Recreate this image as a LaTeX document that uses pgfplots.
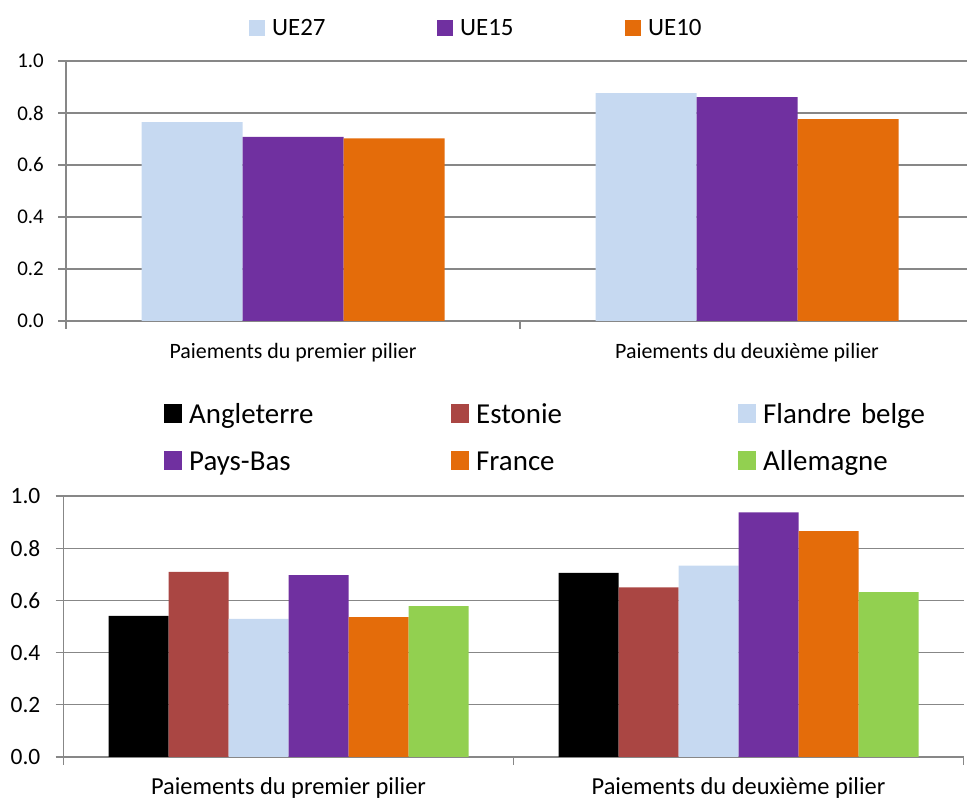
\documentclass[border=0pt]{standalone}
\usepackage{pgfplots}
\pgfplotsset{compat=1.18}
\usepackage{fontspec}
\setmainfont{Carlito}

\definecolor{clblue}{HTML}{C6D9F1}
\definecolor{cpurple}{HTML}{7030A0}
\definecolor{corange}{HTML}{E46C0A}
\definecolor{cred}{HTML}{AA4643}
\definecolor{cgreen}{HTML}{92D050}
\definecolor{cgrid}{HTML}{878787}

\pgfplotsset{
  panel/.style={
    scale only axis,
    ybar=0pt,
    ymin=0, ymax=1, xmin=-0.5, xmax=1.5,
    ytick={0,0.2,0.4,0.6,0.8,1},
    yticklabel style={/pgf/number format/fixed, /pgf/number format/fixed zerofill,
      /pgf/number format/precision=1, /pgf/number format/assume math mode=true},
    xtick={-0.5,0.5,1.5}, xticklabels={},
    extra x ticks={0,1},
    extra x tick style={major tick length=0pt, grid=none},
    ymajorgrids,
    grid style={cgrid, line width=1.3bp},
    axis x line*=bottom, axis y line*=left,
    axis line style={cgrid, line width=1.3bp, -},
    tick style={cgrid, line width=1.3bp},
    tick align=outside,
    major tick length=8bp,
    legend style={draw=none, fill=none, inner sep=0pt,
      nodes={inner sep=0pt, anchor=base west, align=left}},
  }
}

\begin{document}
\begin{tikzpicture}[x=1bp,y=1bp]
\useasboundingbox (0,0) rectangle (967,799);

% Upper panel: EU aggregates
\begin{axis}[panel,
  at={(66bp,478bp)}, anchor=south west,
  width=908bp, height=260bp,
  bar width=101bp,
  yticklabel style={anchor=east, inner sep=0pt, xshift=-14bp, font=\fontsize{21}{25}\selectfont},
  extra x tick labels={Paiements du premier pilier, Paiements du deuxième pilier},
  extra x tick style={xticklabel style={anchor=base, inner sep=0pt, yshift=-38bp, font=\fontsize{22}{26}\selectfont}},
  legend columns=3,
  legend image code/.code={\fill[#1] (0bp,0bp) rectangle (16bp,16bp);},
  legend style={at={(0.2015,1.078)}, anchor=south west,
    nodes={text width=160bp, text height=18bp, text depth=5bp, font=\fontsize{25}{30}\selectfont},
    /tikz/every odd column/.append style={column sep=7bp},
    /tikz/every even column/.append style={column sep=5bp}},
]
\addplot[fill=clblue, draw=none] coordinates {(0,0.765) (1,0.876)};
\addplot[fill=cpurple, draw=none] coordinates {(0,0.708) (1,0.861)};
\addplot[fill=corange, draw=none] coordinates {(0,0.702) (1,0.776)};
\legend{UE27, UE15, UE10}
\end{axis}

% Lower panel: individual countries / regions
\begin{axis}[panel,
  at={(63.5bp,42bp)}, anchor=south west,
  width=900bp, height=261bp,
  bar width=60bp,
  yticklabel style={anchor=east, inner sep=0pt, xshift=-15bp, font=\fontsize{23.5}{28}\selectfont},
  extra x tick labels={Paiements du premier pilier, Paiements du deuxième pilier},
  extra x tick style={xticklabel style={anchor=base, inner sep=0pt, yshift=-38bp, font=\fontsize{24.5}{29}\selectfont}},
  legend columns=3,
  legend image code/.code={\fill[#1] (0bp,0bp) rectangle (18bp,19bp);},
  legend style={at={(0.1117,1.3563)}, anchor=north west,
    nodes={text width=257bp, text height=20bp, text depth=6bp, font=\fontsize{29}{34}\selectfont},
    row sep=21bp,
    /tikz/every odd column/.append style={column sep=7bp},
    /tikz/every even column/.append style={column sep=5bp}},
]
\addplot[fill=black, draw=none] coordinates {(0,0.541) (1,0.705)};
\addplot[fill=cred, draw=none] coordinates {(0,0.709) (1,0.650)};
\addplot[fill=clblue, draw=none] coordinates {(0,0.529) (1,0.733)};
\addplot[fill=cpurple, draw=none] coordinates {(0,0.697) (1,0.937)};
\addplot[fill=corange, draw=none] coordinates {(0,0.536) (1,0.865)};
\addplot[fill=cgreen, draw=none] coordinates {(0,0.578) (1,0.632)};
\legend{Angleterre, Estonie, Flandre belge, Pays-Bas, France, Allemagne}
\end{axis}
\end{tikzpicture}
\end{document}
